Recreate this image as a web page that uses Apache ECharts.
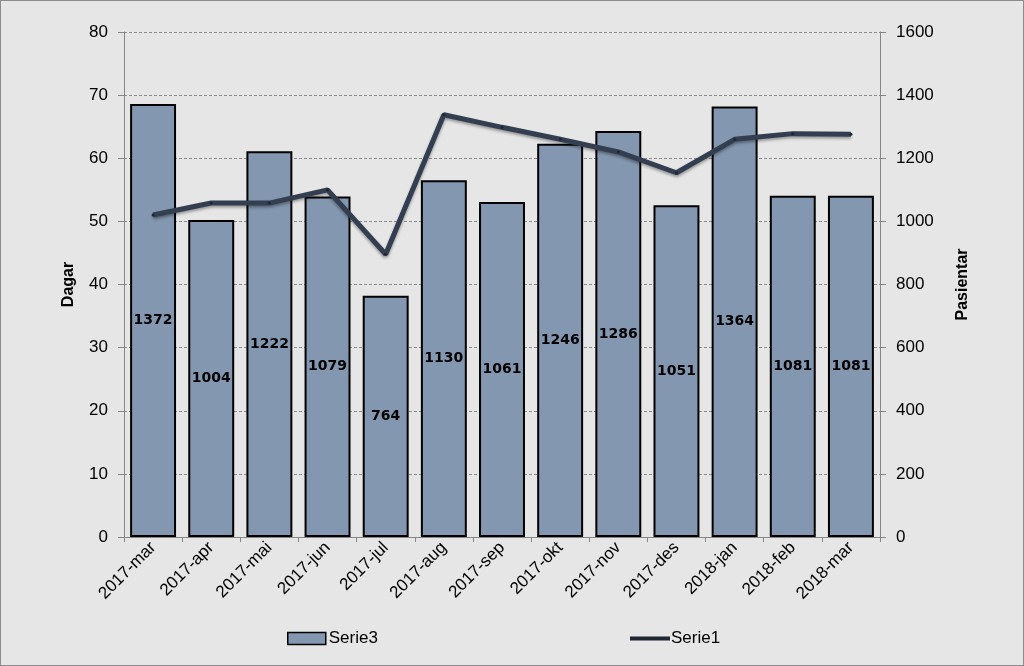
<!DOCTYPE html>
<html><head><meta charset="utf-8">
<script src="https://cdn.jsdelivr.net/npm/echarts@6/dist/echarts.min.js"></script>
<style>html,body{margin:0;padding:0;background:#e6e6e6}#c{width:1024px;height:666px;box-sizing:border-box;border:1px solid #8c8c8c}</style>
</head><body><div id="c"></div>
<script>
const categories = ['2017-mar','2017-apr','2017-mai','2017-jun','2017-jul','2017-aug','2017-sep','2017-okt','2017-nov','2017-des','2018-jan','2018-feb','2018-mar'];
const serie3 = [1372,1004,1222,1079,764,1130,1061,1246,1286,1051,1364,1081,1081];
const serie1 = [51.0,52.9,52.9,55.0,44.8,66.9,64.9,63.0,61.0,57.7,63.0,63.9,63.8];
const leftTicks = [0,80,10];
const rightTicks = [0,1600,200];

const FONT = '"Liberation Sans", "DejaVu Sans", sans-serif';
const chart = echarts.init(document.getElementById('c'));
chart.setOption({
  backgroundColor: '#e6e6e6',
  animation: false,
  textStyle: {fontFamily: FONT},
  grid: {left: 123, right: 143, top: 31, bottom: 128, containLabel: false},
  legend: [
    {data: [{name: 'Serie3', icon: 'rect', itemStyle: {borderColor: '#000', borderWidth: 1.5}}], left: 281, top: 624, itemWidth: 38, itemHeight: 12, itemGap: 4,
     textStyle: {fontSize: 17, color: '#000', fontFamily: FONT, padding: [0,0,0,-2]}},
    {data: [{name: 'Serie1', icon: 'path://M0,0 L40,0 L40,4 L0,4 Z'}], left: 624, top: 624, itemWidth: 40, itemHeight: 4,
     textStyle: {fontSize: 17, color: '#000', fontFamily: FONT, padding: [0,0,0,-4]}}
  ],
  xAxis: {
    type: 'category', data: categories,
    axisLine: {lineStyle: {color: '#868686', width: 1}},
    axisTick: {show: true, alignWithLabel: false, length: 5, lineStyle: {color: '#868686'}},
    axisLabel: {rotate: 45, fontSize: 17, color: '#000', margin: 8, fontFamily: FONT}
  },
  yAxis: [
    {type: 'value', min: leftTicks[0], max: leftTicks[1], interval: leftTicks[2], position: 'left',
     name: 'Dagar', nameLocation: 'middle', nameGap: 47, nameRotate: 90,
     nameTextStyle: {fontWeight: 'bold', fontSize: 16, color: '#000', fontFamily: FONT},
     axisLine: {show: true, lineStyle: {color: '#868686'}},
     axisTick: {show: true, length: 6, lineStyle: {color: '#868686'}},
     axisLabel: {fontSize: 17, color: '#000', margin: 16, fontFamily: FONT},
     splitLine: {show: true, lineStyle: {color: '#8a8a8a', type: [3, 2], width: 1}}},
    {type: 'value', min: rightTicks[0], max: rightTicks[1], interval: rightTicks[2], position: 'right',
     name: 'Pasientar', nameLocation: 'middle', nameGap: 75, nameRotate: 90,
     nameTextStyle: {fontWeight: 'bold', fontSize: 16, color: '#000', fontFamily: FONT},
     axisLine: {show: true, lineStyle: {color: '#868686'}},
     axisTick: {show: true, length: 6, lineStyle: {color: '#868686'}},
     axisLabel: {fontSize: 17, color: '#000', margin: 16, fontFamily: FONT, formatter: v => String(v)},
     splitLine: {show: false}}
  ],
  series: [
    {name: 'Serie3', type: 'bar', yAxisIndex: 1, data: serie3, barCategoryGap: '21%',
     itemStyle: {color: '#8497b0', borderColor: '#000', borderWidth: 2},
     label: {show: true, position: 'inside', fontWeight: 'bold', fontSize: 14, color: '#000', fontFamily: '"DejaVu Sans", sans-serif'}},
    {name: 'Serie1', type: 'line', yAxisIndex: 0, data: serie1, symbol: 'circle', symbolSize: 3,
     lineStyle: {color: '#333f50', width: 5, shadowColor: 'rgba(0,0,0,0.35)', shadowBlur: 3, shadowOffsetY: 2},
     itemStyle: {color: '#1e2733'}, z: 5}
  ]
});
</script></body></html>
